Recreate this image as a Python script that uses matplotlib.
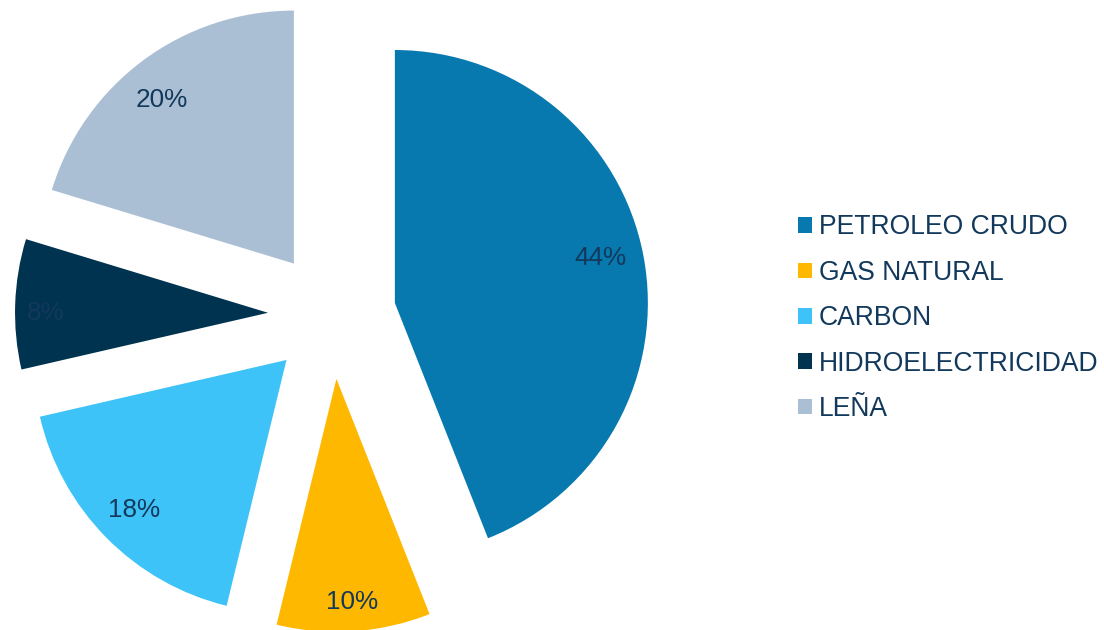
import numpy as np
import matplotlib
matplotlib.use("Agg")
import matplotlib.pyplot as plt
from matplotlib.patches import Patch

# energy mix shares (%)
fuentes = ["PETROLEO CRUDO", "GAS NATURAL", "CARBON", "HIDROELECTRICIDAD", "LEÑA"]
porcentajes = [44.0, 9.8, 17.6, 8.3, 20.3]
colores = ["#0779AE", "#FFB800", "#3EC3F8", "#00334F", "#ABBFD4"]
color_texto = "#12395B"

# radial position of each percentage label (fraction of radius) and angular nudge (deg)
dist_etiquetas = [0.83, 0.885, 0.845, 0.88, 0.83]
giro_etiquetas = [1.5, 0.0, 0.0, 2.0, 2.5]

plt.rcParams["font.family"] = ["Liberation Sans", "DejaVu Sans"]

fig = plt.figure(figsize=(11.04, 6.3), dpi=100)
ax = fig.add_axes([0, 0, 1, 1])

radio = 253
wedges, textos, pcts = ax.pie(
    porcentajes,
    colors=colores,
    explode=[64] * len(porcentajes),
    startangle=90,
    counterclock=False,
    center=(332, 315),
    radius=radio,
    autopct="%.0f%%",
    pctdistance=0.85,
    textprops={"color": color_texto, "fontsize": 18.8},
    frame=True,
)
for w, t, d, g in zip(wedges, pcts, dist_etiquetas, giro_etiquetas):
    ang = np.deg2rad((w.theta1 + w.theta2) / 2 + g)
    cx, cy = w.center
    t.set_position((cx + d * radio * np.cos(ang), cy + d * radio * np.sin(ang)))

ax.set_xlim(0, 1104)
ax.set_ylim(0, 630)
ax.set_aspect("equal")
ax.axis("off")

handles = [Patch(facecolor=c, edgecolor="none") for c in colores]
leg = fig.legend(
    handles, fuentes,
    loc="center left",
    bbox_to_anchor=(798 / 1104, 0.495),
    frameon=False,
    fontsize=19.1,
    handlelength=0.53,
    handleheight=0.53,
    handletextpad=0.25,
    labelspacing=0.73,
    borderaxespad=0,
    borderpad=0,
)
for t in leg.get_texts():
    t.set_color(color_texto)

fig.savefig("out.png", dpi=100)
